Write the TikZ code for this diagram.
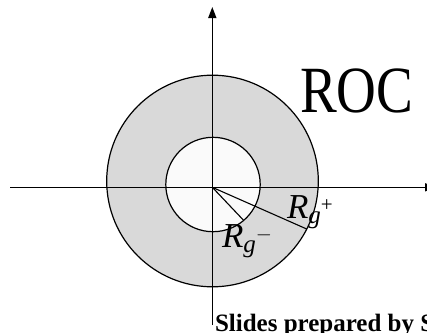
\documentclass[tikz,border=0pt]{standalone}
\usepackage{fontspec}
\setmainfont{Liberation Serif}
\usetikzlibrary{arrows.meta}

\begin{document}
\begin{tikzpicture}[
  x=1pt,y=-1pt,
  axis/.style={line width=1.4pt,-{Triangle[length=11pt,width=8pt]}},
  ring/.style={line width=1.2pt},
  lbl/.style={anchor=base west,inner sep=0pt,outer sep=0pt}]
\useasboundingbox (0,0) rectangle (427,332);

% annulus
\fill[gray!30,even odd rule] (212.5,181) circle[radius=105.8] (213,184.5) circle[radius=47.2];
\fill[white!98!black] (213,184.5) circle[radius=47.2];
\draw[ring] (212.5,181) circle[radius=105.8];
\draw[ring] (213,184.5) circle[radius=47.2];

\coordinate (O) at (212.3,187.3);
\coordinate (xl) at (10,187.3);
\coordinate (xr) at (436,187.3);
\coordinate (yb) at (212.3,325);
\coordinate (yt) at (212.3,7);
\coordinate (pp) at (306.7,229);
\coordinate (pm) at (243.3,220);

\draw[axis] (xl) -- (xr);
\draw[axis] (yb) -- (yt);

% radii
\draw[line width=1.1pt] (O) -- (pp);
\draw[line width=1.1pt] (O) -- (pm);

\node[lbl,font=\fontsize{66}{66}\selectfont] (roc) at (300,112.5) {\scalebox{0.835}[1]{ROC}};
\node[lbl,font=\fontsize{35}{35}\selectfont] (rp) at (287,218) {\textit{R}\raisebox{-5pt}{\fontsize{25}{25}\selectfont\textit{g}\raisebox{12pt}{\fontsize{21}{21}\selectfont +}}};
\node[lbl,font=\fontsize{35}{35}\selectfont] (rm) at (222,247) {\textit{R}\raisebox{-5pt}{\fontsize{25}{25}\selectfont\textit{g}\raisebox{12pt}{\fontsize{21}{21}\selectfont $-$}}};
\node[lbl,font=\fontsize{25}{25}\selectfont\bfseries] (slides) at (215,331.5) {Slides prepared by S};
\end{tikzpicture}
\end{document}
